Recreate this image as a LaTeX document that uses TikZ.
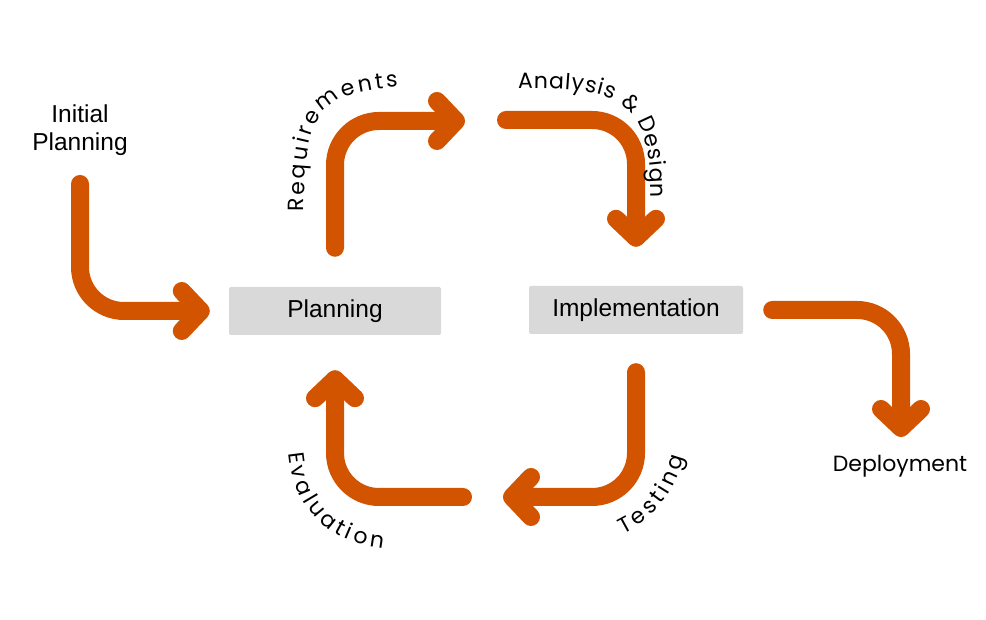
\documentclass[tikz,border=0pt]{standalone}
\usepackage{fontspec}
\setmainfont{Liberation Sans}
\newfontfamily\curvefont{Poppins}
\usetikzlibrary{arrows.meta,decorations.text}

\definecolor{pumpkin}{HTML}{D35400}
\definecolor{boxgray}{HTML}{D9D9D9}

\tikzset{
  flow/.style={draw=pumpkin, line width=18pt, line cap=round, rounded corners=44pt,
    -{Straight Barb[round, length=19pt, width=40pt]}},
  stagebox/.style={fill=boxgray, rounded corners=2pt, minimum width=212pt,
    minimum height=48pt, font=\fontsize{24.5}{28}\selectfont},
  bendlabel/.style={decorate, decoration={text along path, text align=fit to path,
    text={|\curvefont\fontsize{22}{24}\selectfont|#1}}}
}

\begin{document}
\begin{tikzpicture}[x=1pt, y=1pt]
  \useasboundingbox (0,0) rectangle (986,620);
  % stages
  \node[align=center, font=\fontsize{24.5}{28}\selectfont] (init) at (80,490) {Initial\\Planning};
  \node[stagebox] (plan) at (335,309) {Planning};
  \node[stagebox, minimum width=214pt] (impl) at (636,310) {Implementation};
  \node[font=\curvefont\fontsize{22}{26}\selectfont] (deploy) at (900,154) {Deployment};

  % free ends of the arrows
  \coordinate (a1) at (80,436);
  \coordinate (a2) at (465,499);
  \coordinate (a3) at (506,500);
  \coordinate (a4) at (901,183);
  \coordinate (a5) at (503,123);
  \coordinate (a6) at (463,123);

  \draw[flow] (a1) |- ([xshift=-19pt]plan.west);
  \draw[flow] ([yshift=39pt]plan.north) |- (a2);
  \draw[flow] (a3) -| ([yshift=39pt]impl.north);
  \draw[flow] ([xshift=29pt]impl.east) -| (a4);
  \draw[flow] ([yshift=-38pt]impl.south) |- (a5);
  \draw[flow] (a6) -| ([yshift=-35pt]plan.south);

  % curved labels
  \path[bendlabel=Requirements] (304,408) .. controls (304,510) and (320,527) .. (398,533);
  \path[bendlabel={Analysis {\&} Design}] (518,531) .. controls (622,533) and (651,520) .. (651,422);
  \path[bendlabel=Testing] (623,86) .. controls (652,100) and (674,125) .. (684,163);
  \path[bendlabel=Evaluation] (289,167) .. controls (294,113) and (325,78) .. (383,72);
\end{tikzpicture}
\end{document}
